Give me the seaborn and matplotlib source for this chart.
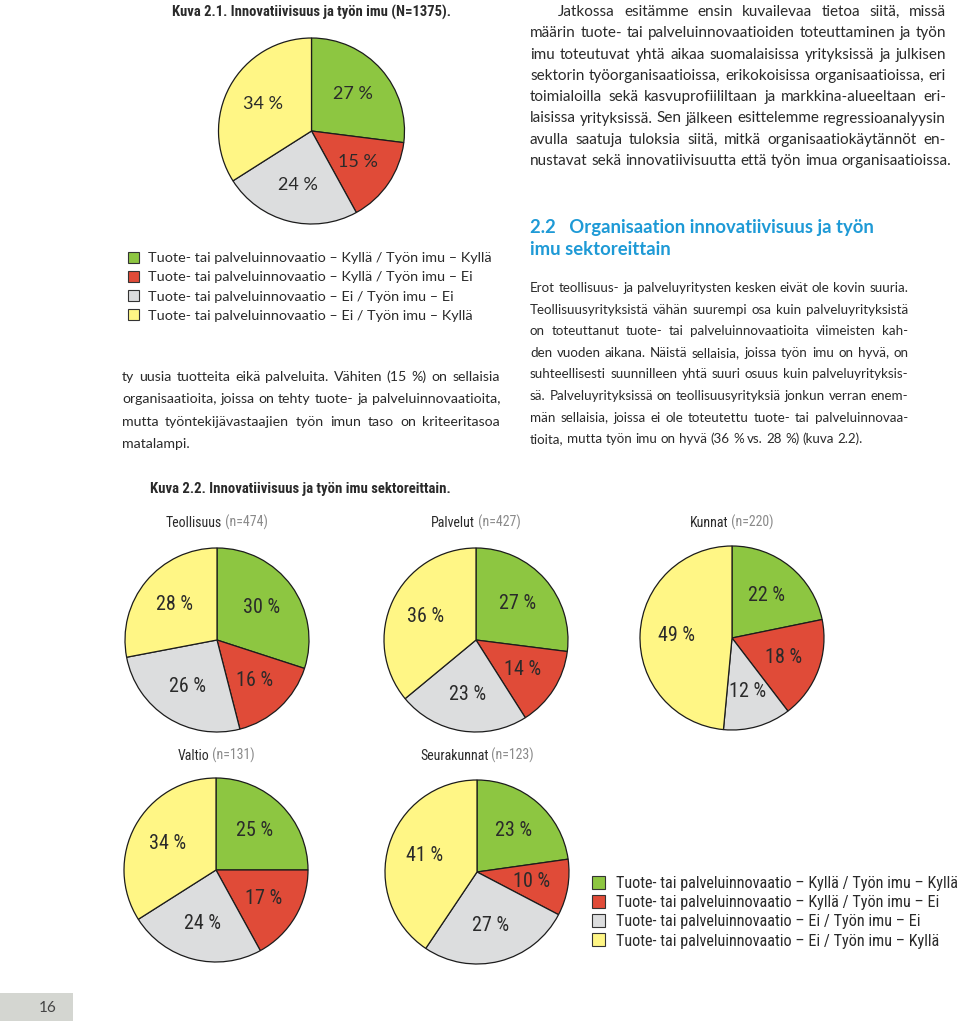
import os
import matplotlib
matplotlib.use("Agg")
import matplotlib.pyplot as plt
from matplotlib import font_manager
from matplotlib.font_manager import FontProperties
from matplotlib.patches import Rectangle
from matplotlib.transforms import IdentityTransform
import seaborn as sns

# ---- data -------------------------------------------------------------
outcome_labels = [
    "Tuote- tai palveluinnovaatio – Kyllä / Työn imu – Kyllä",
    "Tuote- tai palveluinnovaatio – Kyllä / Työn imu – Ei",
    "Tuote- tai palveluinnovaatio – Ei / Työn imu – Ei",
    "Tuote- tai palveluinnovaatio – Ei / Työn imu – Kyllä",
]
overall_pct = [27, 15, 24, 34]
overall_n = 1375

sectors = ["Teollisuus", "Palvelut", "Kunnat", "Valtio", "Seurakunnat"]
sector_n = [474, 427, 220, 131, 123]
yes_yes = [30, 27, 22, 25, 23]
yes_no = [16, 14, 18, 17, 10]
no_no = [26, 23, 12, 24, 27]
no_yes = [28, 36, 49, 34, 41]

para_top = [
    "Jatkossa esitämme ensin kuvailevaa tietoa siitä, missä",
    "määrin tuote- tai palveluinnovaatioiden toteuttaminen ja työn",
    "imu toteutuvat yhtä aikaa suomalaisissa yrityksissä ja julkisen",
    "sektorin työorganisaatioissa, erikokoisissa organisaatioissa, eri",
    "toimialoilla sekä kasvuprofiililtaan ja markkina-alueeltaan eri-",
    "laisissa yrityksissä. Sen jälkeen esittelemme regressioanalyysin",
    "avulla saatuja tuloksia siitä, mitkä organisaatiokäytännöt en-",
    "nustavat sekä innovatiivisuutta että työn imua organisaatioissa.",
]
para_left = [
    "ty uusia tuotteita eikä palveluita. Vähiten (15 %) on sellaisia",
    "organisaatioita, joissa on tehty tuote- ja palveluinnovaatioita,",
    "mutta työntekijävastaajien työn imun taso on kriteeritasoa",
    "matalampi.",
]
para_right = [
    "Erot teollisuus- ja palveluyritysten kesken eivät ole kovin suuria.",
    "Teollisuusyrityksistä vähän suurempi osa kuin palveluyrityksistä",
    "on toteuttanut tuote- tai palveluinnovaatioita viimeisten kah-",
    "den vuoden aikana. Näistä sellaisia, joissa työn imu on hyvä, on",
    "suhteellisesti suunnilleen yhtä suuri osuus kuin palveluyrityksis-",
    "sä. Palveluyrityksissä on teollisuusyrityksiä jonkun verran enem-",
    "män sellaisia, joissa ei ole toteutettu tuote- tai palveluinnovaa-",
    "tioita, mutta työn imu on hyvä (36 % vs. 28 %) (kuva 2.2).",
]
heading = ["2.2   Organisaation innovatiivisuus ja työn", "imu sektoreittain"]

# ---- style ------------------------------------------------------------
sns.set_style("white")
palette = sns.color_palette(["#8DC641", "#E04B38", "#DCDDDE", "#FFF685"])
plt.rcParams["font.family"] = ["Lato", "DejaVu Sans"]


def pick_condensed(bold):
    # a narrow sans for the figure captions, like the condensed face in the print
    want = 700 if bold else 400
    rank = ["notosans", "roboto", "liberation", "opensans", "dejavu"]
    best, best_score = None, 1e9
    for f in font_manager.fontManager.ttflist:
        base = os.path.basename(f.fname).lower()
        if f.style != "normal" or "italic" in base or "mono" in base or "serif" in base.replace("sans", ""):
            continue
        cond = ("condensed" in str(f.stretch) or "narrow" in base or "condensed" in base
                or "narrow" in f.name.lower() or "condensed" in f.name.lower())
        if not cond:
            continue
        w = f.weight if isinstance(f.weight, int) else font_manager.weight_dict.get(f.weight, 400)
        score = abs(w - want) / 100
        if any(k in base for k in ("extra", "ultra", "semi")):
            score += 0.5
        score += next((i for i, r in enumerate(rank) if r in base), 9) * 0.1
        if score < best_score:
            best, best_score = f, score
    if best is None:
        return dict(family="DejaVu Sans", fontstretch="condensed",
                    weight="bold" if bold else "normal")
    return dict(fontproperties=FontProperties(fname=best.fname))


NARROW = pick_condensed(False)
NARROW_B = pick_condensed(True)
REG = dict(family=["Lato", "DejaVu Sans"])
INK = "#2a2a2a"
BLUE = "#1E9AD6"

W, H = 960, 1024
fig = plt.figure(figsize=(W / 100, H / 100), dpi=100)
fig.patch.set_facecolor("white")
renderer = fig.canvas.get_renderer()
PX = IdentityTransform()


def put(x, y, s, **kw):
    # pixel coordinates, y measured from the top
    kw.setdefault("color", INK)
    return fig.text(x, H - y, s, transform=PX, **kw)


def width_of(s, **kw):
    t = put(0, 0, s, **kw)
    w = t.get_window_extent(renderer).width
    t.remove()
    return w


def paragraph(lines, x0, x1, y0, step, indent=0, justify_last=False, base=10, **kw):
    starts = [x0 + (indent if i == 0 else 0) for i in range(len(lines))]
    ratios = [(x1 - s) / width_of(l, fontsize=base, **kw)
              for i, (s, l) in enumerate(zip(starts, lines))
              if i < len(lines) - 1 or justify_last]
    size = base * min(ratios) * 0.995
    space = width_of("n n", fontsize=size, **kw) - width_of("nn", fontsize=size, **kw)
    for i, line in enumerate(lines):
        words = line.split(" ")
        ws = [width_of(w, fontsize=size, **kw) for w in words]
        last = i == len(lines) - 1
        if (not last or justify_last) and len(words) > 1:
            gap = (x1 - starts[i] - sum(ws)) / (len(words) - 1)
        else:
            gap = space
        x = starts[i]
        for w, ww in zip(words, ws):
            put(x, y0 + i * step, w, fontsize=size, va="baseline", **kw)
            x += ww + gap
    return size


def fit_size(text, target, base=10, **kw):
    return base * target / width_of(text, fontsize=base, **kw)


def draw_pie(cx, cy, r, values, font, size):
    pad = 1.02
    ax = fig.add_axes([(cx - r * pad) / W, 1 - (cy + r * pad) / H,
                       2 * r * pad / W, 2 * r * pad / H])
    total = sum(values)
    props = dict(font)          # font first, size after it so the size sticks
    props.update(fontsize=size, color=INK)
    ax.pie(values, colors=palette, startangle=90, counterclock=False, radius=1,
           wedgeprops=dict(edgecolor="#1c1c1c", linewidth=0.9),
           autopct=lambda p: f"{round(p * total / 100)} %", pctdistance=0.6,
           textprops=props)
    ax.set_xlim(-pad, pad)
    ax.set_ylim(-pad, pad)
    ax.set_aspect("equal")
    ax.axis("off")
    return ax


def legend(x_box, x_text, x_end, y0, step, box, font, max_size=14):
    size = min(max_size, fit_size(outcome_labels[0], x_end - x_text, **font))
    for i, (lab, col) in enumerate(zip(outcome_labels, palette)):
        y = y0 + i * step
        fig.patches.append(Rectangle((x_box, H - y - box / 2), box, box, transform=PX,
                                     facecolor=col, edgecolor="#333333", linewidth=0.8))
        put(x_text, y + size * 1.39 * 0.36, lab, fontsize=size, va="baseline", **font)


# ---- Kuva 2.1 ---------------------------------------------------------
title1 = f"Kuva 2.1. Innovatiivisuus ja työn imu (N={overall_n})."
put(172, 17, title1, fontsize=min(10.6, fit_size(title1, 279, **NARROW_B)),
    va="baseline", **NARROW_B)
draw_pie(311.5, 131, 93, overall_pct, REG, 13)
legend(128, 148, 490, 257, 19.2, 11, REG)

# ---- body text --------------------------------------------------------
paragraph(para_top, 530, 946, 16, 21.3, indent=28, **REG)
paragraph(para_left, 122, 500, 381, 22.3, **REG)
paragraph(para_right, 530, 908, 292, 21.6, **REG)
hs = fit_size(heading[0], 344, weight="bold", **REG)
put(530, 233, heading[0], fontsize=hs, weight="bold", color=BLUE, va="baseline", **REG)
put(530, 255, heading[1], fontsize=hs, weight="bold", color=BLUE, va="baseline", **REG)

# ---- Kuva 2.2 ---------------------------------------------------------
title2 = "Kuva 2.2. Innovatiivisuus ja työn imu sektoreittain."
put(150, 493, title2, fontsize=min(10.6, fit_size(title2, 317, **NARROW_B)),
    va="baseline", **NARROW_B)

centers = [(217, 640), (476, 640), (732, 638), (216, 870), (477, 872)]
title_y = [527, 527, 527, 760, 760]
ts = min(10, fit_size(f"{sectors[0]} (n={sector_n[0]})", 104, **NARROW))
for k, sec in enumerate(sectors):
    cx, cy = centers[k]
    draw_pie(cx, cy, 92, [yes_yes[k], yes_no[k], no_no[k], no_yes[k]], NARROW, 14.5)
    a, b = sec, f" (n={sector_n[k]})"
    wa = width_of(a, fontsize=ts, **NARROW)
    wb = width_of(b, fontsize=ts, **NARROW)
    x = cx - (wa + wb) / 2
    put(x, title_y[k], a, fontsize=ts, va="baseline", **NARROW)
    put(x + wa, title_y[k], b, fontsize=ts, va="baseline", color="#8a8a8a", **NARROW)

legend(592, 616, 958, 882, 19.3, 13, NARROW, max_size=11.8)

# ---- page number ------------------------------------------------------
fig.patches.append(Rectangle((0, H - 1021), 73, 28, transform=PX,
                             facecolor="#D4D6D1", edgecolor="none"))
put(48, 1012, "16", fontsize=11, ha="center", va="baseline", color="#444444", **REG)

fig.savefig("out.png", dpi=100, facecolor="white")
